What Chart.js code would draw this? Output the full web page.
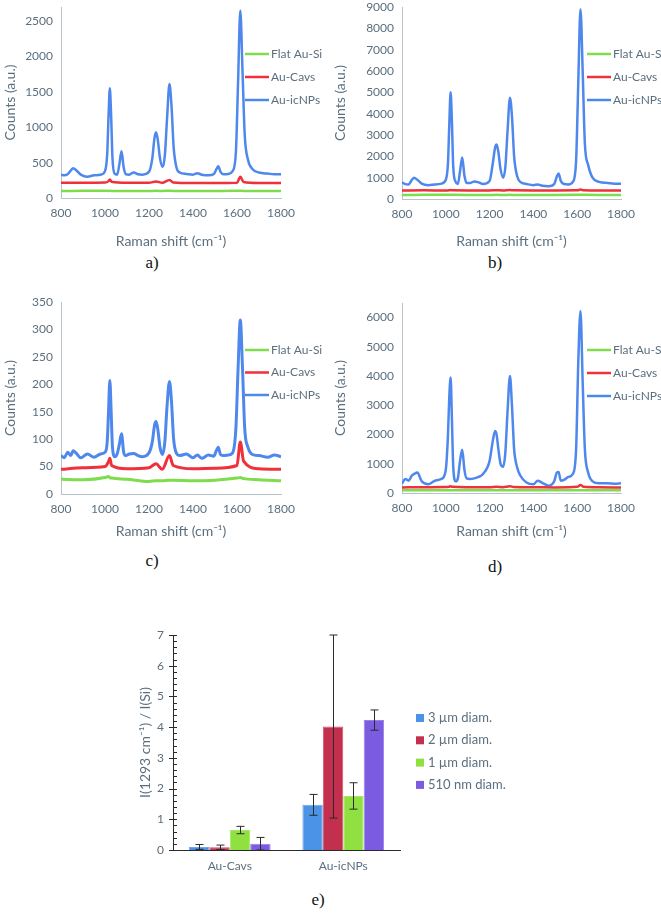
<!DOCTYPE html>
<html>
<head>
<meta charset="utf-8">
<script src="https://cdn.jsdelivr.net/npm/chart.js@4"></script>
<style>
  body { margin: 0; background: #fff; width: 661px; height: 915px; position: relative; overflow: hidden; }
  canvas { position: absolute; }
  .lbl { position: absolute; font: 17px "Liberation Serif", serif; color: #111; transform: translate(-50%, -50%); }
</style>
</head>
<body>
<canvas id="chartA" width="330" height="250" style="left:0;top:0"></canvas>
<canvas id="chartB" width="331" height="250" style="left:330px;top:0"></canvas>
<canvas id="chartC" width="330" height="250" style="left:0;top:290px"></canvas>
<canvas id="chartD" width="331" height="250" style="left:330px;top:290px"></canvas>
<canvas id="chartE" width="526" height="280" style="left:135px;top:600px"></canvas>
<div class="lbl" style="left:152px;top:263px">a)</div>
<div class="lbl" style="left:495px;top:263px">b)</div>
<div class="lbl" style="left:152px;top:561px">c)</div>
<div class="lbl" style="left:495px;top:567px">d)</div>
<div class="lbl" style="left:318px;top:900px">e)</div>
<script>
// Raman shift grid used for the Au-icNPs spectra (cm-1)
const shift = [
  800, 815, 830, 845, 855, 870, 890, 920, 950, 980,
  1000, 1010, 1016, 1022, 1028, 1034, 1045, 1055, 1065, 1075,
  1085, 1095, 1110, 1130, 1150, 1170, 1200, 1215, 1225, 1232,
  1240, 1250, 1262, 1272, 1282, 1293, 1302, 1312, 1325, 1340,
  1370, 1400, 1420, 1440, 1470, 1495, 1507, 1515, 1525, 1540,
  1560, 1580, 1595, 1605, 1615, 1625, 1635, 1650, 1670, 1700,
  1740, 1770, 1800
];
// coarser grid for the flat / cavity spectra
const flatShift = [800, 900, 1000, 1015, 1022, 1030, 1100, 1200, 1232, 1260, 1293, 1310, 1400, 1500, 1600, 1615, 1630, 1700, 1800];
const shiftTicks = [800, 1000, 1200, 1400, 1600, 1800];

// a) 3 um
const icnpA = [
  330, 320, 335, 390, 420, 390, 330, 300, 320, 330,
  380, 620, 1150, 1550, 1150, 560, 340, 330, 470, 660,
  430, 335, 330, 360, 335, 330, 370, 560, 850, 930,
  820, 560, 440, 600, 1120, 1610, 1320, 720, 430, 360,
  340, 330, 350, 330, 320, 340, 410, 450, 370, 335,
  340, 380, 650, 1650, 2650, 1800, 900, 540, 410, 360,
  345, 335, 335
];
const cavsA = [215, 215, 218, 235, 260, 230, 215, 215, 235, 215, 255, 220, 212, 212, 215, 300, 225, 212, 212];
const flatA = [100, 101, 102, 100, 102, 100, 99, 100, 101, 100, 102, 100, 99, 100, 101, 102, 100, 99, 100];
const countTicksA = [0, 500, 1000, 1500, 2000, 2500];

// b) 2 um
const icnpB = [
  780, 700, 680, 900, 1000, 900, 720, 650, 680, 720,
  900, 1700, 3500, 5000, 3600, 1500, 800, 700, 1300, 1950,
  1100, 750, 750, 820, 780, 700, 850, 1700, 2400, 2550,
  2200, 1400, 1000, 1500, 3200, 4750, 3900, 2000, 1100, 800,
  700, 650, 680, 620, 600, 700, 1050, 1200, 850, 700,
  680, 800, 1800, 5500, 8900, 6000, 2600, 1600, 1000, 800,
  750, 720, 720
];
const cavsB = [400, 405, 400, 410, 420, 405, 400, 400, 410, 400, 420, 405, 400, 400, 405, 440, 410, 400, 400];
const flatB = [190, 195, 200, 195, 200, 195, 190, 190, 195, 190, 195, 190, 190, 190, 195, 200, 195, 190, 190];
const countTicksB = [0, 1000, 2000, 3000, 4000, 5000, 6000, 7000, 8000, 9000];

// c) 1 um
const icnpC = [
  70, 66, 76, 70, 79, 74, 66, 73, 67, 73,
  76, 95, 150, 207, 150, 85, 68, 73, 90, 110,
  76, 70, 73, 74, 70, 68, 75, 95, 125, 132,
  118, 85, 72, 95, 160, 205, 170, 100, 74, 70,
  73, 66, 71, 65, 71, 69, 80, 85, 72, 70,
  71, 75, 120, 230, 317, 230, 120, 85, 72, 70,
  67, 71, 68
];
const cavsC = [45, 48, 50, 58, 65, 52, 46, 48, 55, 45, 70, 52, 46, 47, 52, 95, 60, 46, 45];
const flatC = [27, 26, 30, 32, 30, 29, 27, 23, 24, 24, 25, 25, 24, 25, 29, 30, 28, 26, 24];
const countTicksC = [0, 50, 100, 150, 200, 250, 300, 350];

// d) 510 nm
const icnpD = [
  320, 480, 420, 600, 650, 700, 400, 300, 420, 480,
  800, 2000, 3300, 3950, 2500, 900, 400, 500, 1100, 1480,
  800, 500, 480, 500, 550, 650, 1100, 1800, 2120, 2000,
  1500, 1000, 900, 1400, 2800, 4000, 3000, 1500, 900, 600,
  350, 300, 420, 350, 250, 400, 700, 720, 420, 450,
  550, 650, 1500, 4500, 6230, 3800, 1500, 700, 400, 330,
  330, 320, 330
];
const cavsD = [190, 200, 205, 215, 230, 210, 200, 195, 210, 200, 230, 205, 195, 190, 210, 270, 210, 195, 190];
const flatD = [90, 92, 95, 92, 95, 92, 90, 90, 92, 90, 95, 92, 90, 90, 92, 95, 92, 90, 90];
const countTicksD = [0, 1000, 2000, 3000, 4000, 5000, 6000];

const seriesNames = ['Flat Au-Si', 'Au-Cavs', 'Au-icNPs'];

// e) I(1293)/I(Si)
const groups = ['Au-Cavs', 'Au-icNPs'];
const barNames = ['3 µm diam.', '2 µm diam.', '1 µm diam.', '510 nm diam.'];
const ratio3 = [0.10, 1.47];
const ratio2 = [0.09, 4.02];
const ratio1 = [0.65, 1.76];
const ratio510 = [0.20, 4.23];
const err3 = [0.08, 0.34];
const err2 = [0.07, 2.98];
const err1 = [0.12, 0.43];
const err510 = [0.21, 0.33];

const TXT = '#5b6f7f';
const AXIS = '#b9c3cc';
const GREEN = '#7fdc4c';
const RED = '#f0303a';
const BLUE = '#4f88ec';

Chart.defaults.font.family = 'Lato, sans-serif';
Chart.defaults.color = TXT;
Chart.defaults.animation = false;

const pts = (xs, ys) => xs.map((x, i) => ({ x, y: ys[i] }));
const noPad = (s) => { s.paddingTop = 0; s.paddingBottom = 0; s.paddingLeft = 0; s.paddingRight = 0; };

// legend drawn inside the plot, right side
const insideLegend = {
  id: 'insideLegend',
  afterDraw(chart, args, opts) {
    if (!opts || opts.x == null) return;
    const { ctx } = chart;
    ctx.save();
    ctx.font = '12px Lato, sans-serif';
    ctx.textBaseline = 'middle';
    chart.data.datasets.forEach((ds, i) => {
      const y = opts.y + i * opts.dy;
      ctx.strokeStyle = ds.borderColor;
      ctx.lineWidth = 2.5;
      ctx.beginPath();
      ctx.moveTo(opts.x, y);
      ctx.lineTo(opts.x + 24, y);
      ctx.stroke();
      ctx.fillStyle = TXT;
      ctx.fillText(ds.label, opts.x + 26, y);
    });
    ctx.restore();
  }
};

function spectrum(id, cfg) {
  const lw = cfg.lw || 2.5;
  return new Chart(document.getElementById(id), {
    type: 'line',
    data: {
      datasets: [
        { label: seriesNames[0], data: pts(flatShift, cfg.flat), borderColor: GREEN, borderWidth: lw },
        { label: seriesNames[1], data: pts(flatShift, cfg.cavs), borderColor: RED, borderWidth: lw },
        { label: seriesNames[2], data: pts(shift, cfg.icnp), borderColor: BLUE, borderWidth: lw }
      ]
    },
    options: {
      responsive: false,
      layout: { padding: { top: cfg.top, right: cfg.right, left: 0, bottom: 0 } },
      elements: { point: { radius: 0 }, line: { cubicInterpolationMode: 'monotone' } },
      plugins: {
        legend: { display: false },
        tooltip: { enabled: false },
        insideLegend: cfg.legend
      },
      scales: {
        x: {
          type: 'linear', min: 800, max: 1800,
          afterBuildTicks: (s) => { s.ticks = shiftTicks.map(v => ({ value: v })); },
          ticks: { padding: 8, font: { size: 12 }, callback: (v) => String(v) },
          grid: { display: false, drawTicks: false },
          border: { color: AXIS, width: 1 },
          title: { display: true, text: 'Raman shift (cm⁻¹)', font: { size: 14 }, padding: 0 },
          afterFit: (s) => { s.height = cfg.xh; noPad(s); }
        },
        y: {
          min: 0, max: cfg.max,
          afterBuildTicks: (s) => { s.ticks = cfg.ticks.map(v => ({ value: v })); },
          ticks: { padding: 8, font: { size: 12 }, callback: (v) => String(v) },
          grid: { display: false, drawTicks: false },
          border: { color: AXIS, width: 1 },
          title: { display: true, text: 'Counts (a.u.)', font: { size: 14 }, padding: 2 },
          afterFit: (s) => { s.width = cfg.yw; noPad(s); }
        }
      }
    },
    plugins: [insideLegend]
  });
}

spectrum('chartA', { flat: flatA, cavs: cavsA, icnp: icnpA, max: 2700, ticks: countTicksA, top: 7, right: 49, yw: 61, xh: 52, legend: { x: 245, y: 54, dy: 23 } });
spectrum('chartB', { flat: flatB, cavs: cavsB, icnp: icnpB, max: 9000, ticks: countTicksB, top: 7, right: 40, yw: 72, xh: 51, legend: { x: 257, y: 54, dy: 23 } });
spectrum('chartC', { flat: flatC, cavs: cavsC, icnp: icnpC, max: 350, ticks: countTicksC, top: 12, right: 49, yw: 61, xh: 46, legend: { x: 245, y: 60, dy: 22.5 }, lw: 3 });
spectrum('chartD', { flat: flatD, cavs: cavsD, icnp: icnpD, max: 6500, ticks: countTicksD, top: 13, right: 40, yw: 72, xh: 47, legend: { x: 257, y: 60, dy: 23 } });

// error bars for panel e
const errorBars = {
  id: 'errorBars',
  afterDatasetsDraw(chart) {
    const { ctx } = chart;
    const y = chart.scales.y;
    ctx.save();
    ctx.strokeStyle = '#2a2a2a';
    ctx.lineWidth = 1;
    chart.data.datasets.forEach((ds, i) => {
      chart.getDatasetMeta(i).data.forEach((bar, j) => {
        const v = ds.data[j], e = ds.errors[j];
        const top = y.getPixelForValue(v + e);
        const bot = y.getPixelForValue(Math.max(0, v - e));
        const x = Math.round(bar.x) + 0.5;
        ctx.beginPath();
        ctx.moveTo(x, top); ctx.lineTo(x, bot);
        ctx.moveTo(x - 4, top); ctx.lineTo(x + 4, top);
        ctx.moveTo(x - 4, bot); ctx.lineTo(x + 4, bot);
        ctx.stroke();
      });
    });
    ctx.restore();
  }
};

// minor / major tick marks on the ratio axis
const axisTicks = {
  id: 'axisTicks',
  afterDraw(chart) {
    const { ctx } = chart;
    const y = chart.scales.y;
    const x0 = chart.chartArea.left;
    ctx.save();
    ctx.strokeStyle = '#2a2a2a';
    ctx.lineWidth = 1;
    for (let k = 0; k <= 35; k++) {
      const py = Math.round(y.getPixelForValue(k / 5)) + 0.5;
      ctx.beginPath();
      if (k % 5 === 0) { ctx.moveTo(x0 - 4, py); ctx.lineTo(x0 + 4, py); }
      else { ctx.moveTo(x0, py); ctx.lineTo(x0 + 4, py); }
      ctx.stroke();
    }
    ctx.restore();
  }
};

const barLegend = {
  id: 'barLegend',
  afterDraw(chart) {
    const { ctx } = chart;
    ctx.save();
    ctx.font = '13px Lato, sans-serif';
    ctx.textBaseline = 'middle';
    chart.data.datasets.forEach((ds, i) => {
      const y = 118 + i * 22.3;
      ctx.fillStyle = ds.backgroundColor;
      ctx.fillRect(281, y - 4, 8, 8);
      ctx.fillStyle = TXT;
      ctx.fillText(ds.label, 293, y);
    });
    ctx.restore();
  }
};

new Chart(document.getElementById('chartE'), {
  type: 'bar',
  data: {
    labels: groups,
    datasets: [
      { label: barNames[0], data: ratio3, errors: err3, backgroundColor: '#4b93e6', borderColor: '#6aa6ee' },
      { label: barNames[1], data: ratio2, errors: err2, backgroundColor: '#c2304e', borderColor: '#d0506a' },
      { label: barNames[2], data: ratio1, errors: err1, backgroundColor: '#8fe040', borderColor: '#a6e866' },
      { label: barNames[3], data: ratio510, errors: err510, backgroundColor: '#7b5ce0', borderColor: '#9a80ea' }
    ]
  },
  options: {
    responsive: false,
    layout: { padding: { top: 35, right: 261, left: 0, bottom: 0 } },
    datasets: { bar: { categoryPercentage: 0.72, barPercentage: 1, borderWidth: 1 } },
    plugins: { legend: { display: false }, tooltip: { enabled: false } },
    scales: {
      x: {
        ticks: { padding: 9, font: { size: 12 } },
        grid: { display: false, drawTicks: false },
        border: { color: '#2a2a2a', width: 1 },
        afterFit: (s) => { s.height = 30; noPad(s); }
      },
      y: {
        min: 0, max: 7,
        ticks: { stepSize: 1, padding: 9, font: { size: 12 } },
        grid: { display: false, drawTicks: false },
        border: { color: '#2a2a2a', width: 1 },
        title: { display: true, text: 'I(1293 cm⁻¹) / I(Si)', font: { size: 14 }, padding: 2 },
        afterFit: (s) => { s.width = 38; noPad(s); }
      }
    }
  },
  plugins: [errorBars, axisTicks, barLegend]
});
</script>
</body>
</html>
